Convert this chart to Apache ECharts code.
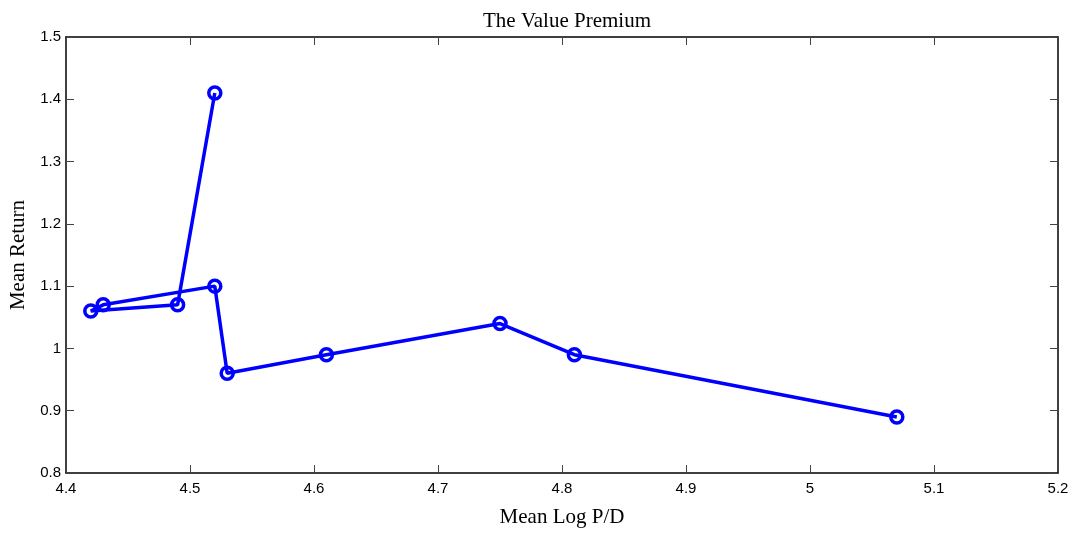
<!DOCTYPE html>
<html>
<head>
<meta charset="utf-8">
<title>The Value Premium</title>
<script src="https://cdn.jsdelivr.net/npm/echarts@6/dist/echarts.min.js"></script>
<style>
  html, body { margin: 0; padding: 0; background: #fff; }
  #chart { width: 1077px; height: 533px; }
</style>
</head>
<body>
<div id="chart"></div>
<script>
// Portfolio mean log price/dividend ratio and mean return, in plotting order
const logPD      = [4.52, 4.49, 4.42, 4.43, 4.52, 4.53, 4.61, 4.75, 4.81, 5.07];
const meanReturn = [1.41, 1.07, 1.06, 1.07, 1.10, 0.96, 0.99, 1.04, 0.99, 0.89];

const xTicks = { min: 4.4, max: 5.2, step: 0.1 };
const yTicks = { min: 0.8, max: 1.5, step: 0.1 };

const points = logPD.map((x, i) => [x, meanReturn[i]]);

const serif = '"Liberation Serif", "DejaVu Serif", serif';
const sans = '"Liberation Sans", Arial, sans-serif';
const fmt = v => String(parseFloat(v.toFixed(1)));

const axisLine = { show: true, lineStyle: { color: '#000', width: 1.5 } };
const tickIn = { show: true, inside: true, length: 8, lineStyle: { color: '#444', width: 1 } };

function xAxisDef(pos, labels) {
  return {
    type: 'value', position: pos,
    min: xTicks.min, max: xTicks.max, interval: xTicks.step,
    axisLine, axisTick: tickIn, splitLine: { show: false },
    axisLabel: { show: labels, formatter: fmt, color: '#000', fontFamily: sans, fontSize: 15, margin: 8 },
    name: labels ? 'Mean Log P/D' : '',
    nameLocation: 'middle', nameGap: 34,
    nameTextStyle: { fontFamily: serif, fontSize: 21, color: '#000' }
  };
}
function yAxisDef(pos, labels) {
  return {
    type: 'value', position: pos,
    min: yTicks.min, max: yTicks.max, interval: yTicks.step,
    axisLine, axisTick: tickIn, splitLine: { show: false },
    axisLabel: { show: labels, formatter: fmt, color: '#000', fontFamily: sans, fontSize: 15, margin: 5 },
    name: labels ? 'Mean Return' : '',
    nameLocation: 'middle', nameGap: 32,
    nameTextStyle: { fontFamily: serif, fontSize: 21, color: '#000' }
  };
}

const chart = echarts.init(document.getElementById('chart'), null, { renderer: 'canvas' });
chart.setOption({
  animation: false,
  backgroundColor: '#fff',
  title: {
    text: 'The Value Premium',
    left: 562, top: 6, textAlign: 'center',
    textStyle: { fontFamily: serif, fontSize: 21, fontWeight: 'normal', color: '#000' }
  },
  grid: { left: 66, right: 19, top: 37, bottom: 57 },
  xAxis: [xAxisDef('bottom', true), xAxisDef('top', false)],
  yAxis: [yAxisDef('left', true), yAxisDef('right', false)],
  series: [{
    type: 'line',
    data: points,
    xAxisIndex: 0, yAxisIndex: 0,
    lineStyle: { color: '#0000ff', width: 3.5 },
    symbol: 'circle',
    symbolSize: 12,
    itemStyle: { color: 'rgba(0,0,0,0)', borderColor: '#0000ff', borderWidth: 3.5 },
    emphasis: { disabled: true }
  }]
});
</script>
</body>
</html>
